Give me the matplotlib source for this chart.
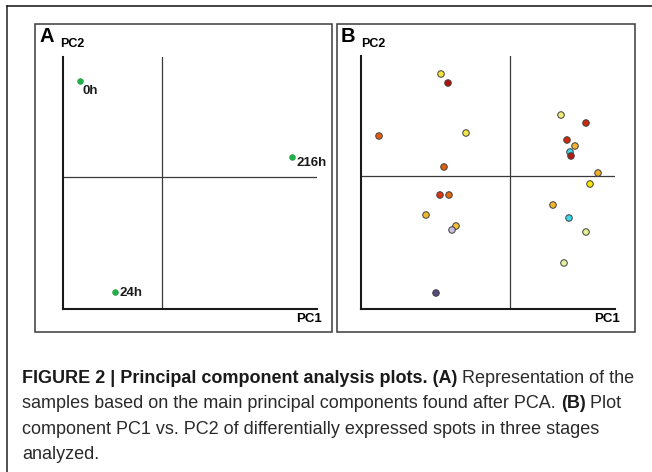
import numpy as np
import matplotlib
matplotlib.use("Agg")
import matplotlib.pyplot as plt
from matplotlib.patches import Rectangle
from matplotlib.lines import Line2D

W, H = 652, 472
plt.rcParams["font.family"] = ["Liberation Sans", "DejaVu Sans"]

# ---- panel A: samples (PC scores, arbitrary units) ----
samp_lab = ["0h", "216h", "24h"]
samp_pc1 = [-8.2, 13.0, -4.7]
samp_pc2 = [9.6, 2.0, -11.5]

# ---- panel B: differentially expressed spots ----
spot_pc1 = [-6.9, -6.2, -13.1, -4.4, -6.6, -7.0, -6.1, -8.4, -5.4, -5.8, -7.4,
            5.1, 7.6, 5.7, 6.5, 6.0, 6.1, 8.8, 8.0, 4.3, 5.9, 7.6, 5.4]
spot_pc2 = [10.2, 9.3, 4.0, 4.3, 0.9, -1.9, -1.9, -3.9, -5.0, -5.4, -11.7,
            6.1, 5.3, 3.6, 3.0, 2.4, 2.0, 0.3, -0.8, -2.9, -4.2, -5.6, -8.7]
spot_col = ["#f2e43c", "#b3120c", "#e0600e", "#f4e64a", "#e0620e", "#e03410",
            "#e0680e", "#f0b82a", "#f2c032", "#c9bcdc", "#5a4a7c",
            "#f0ea78", "#cc2c0a", "#d0280a", "#f0b434", "#3ad8ea", "#b81a12",
            "#f0b026", "#f8e600", "#f0b82a", "#3ad8ea", "#e2f08e", "#e2f0a0"]

fig = plt.figure(figsize=(W / 100, H / 100), dpi=100)


def fx(px):
    return px / W


def fy(py):
    return 1 - py / H


def box(x0, y0, x1, y1, **kw):
    fig.patches.append(Rectangle((fx(x0), fy(y1)), fx(x1) - fx(x0), fy(y0) - fy(y1),
                                 transform=fig.transFigure, fill=False, **kw))


def panel_axes(x0, x1, y0, y1, xlim, ylim):
    ax = fig.add_axes([fx(x0), fy(y1), fx(x1) - fx(x0), fy(y0) - fy(y1)])
    ax.set_xlim(*xlim); ax.set_ylim(*ylim)
    ax.set_xticks([]); ax.set_yticks([])
    ax.patch.set_alpha(0)
    for s in ["top", "right"]:
        ax.spines[s].set_visible(False)
    for s in ["left", "bottom"]:
        ax.spines[s].set_linewidth(1.5)
        ax.spines[s].set_color("#1a1a1a")
    ax.axvline(0, color="#3a3a3a", lw=0.9)
    ax.axhline(0, color="#3a3a3a", lw=0.9)
    return ax


# outer frame (left and top edges)
fig.add_artist(Line2D([fx(7), fx(7)], [fy(6), 0], transform=fig.transFigure, color="#222", lw=1.1))
fig.add_artist(Line2D([fx(7), 1], [fy(6), fy(6)], transform=fig.transFigure, color="#111", lw=1.1))

# panel frames
box(34.5, 23.5, 332, 332, edgecolor="#3a3a3a", lw=1.1)
box(337, 23.5, 634.5, 332, edgecolor="#3a3a3a", lw=1.1)

# ---- panel A ----
axA = panel_axes(63, 317, 57, 309, (-9.9, 15.5), (-13.2, 12.0))
axA.scatter(samp_pc1, samp_pc2, s=17, color="#1fb24a", edgecolors="#15902f",
            linewidths=0.4, zorder=3, clip_on=False)
lab_off = {"0h": (2, -7), "216h": (3.5, -4), "24h": (3, -1)}
for lab, x, y in zip(samp_lab, samp_pc1, samp_pc2):
    axA.annotate(lab, (x, y), xytext=lab_off[lab], textcoords="offset points",
                 fontsize=9.5, fontweight="bold", color="#1a1a1a",
                 va="center", ha="left", annotation_clip=False)

fig.text(fx(39), fy(36), "A", fontsize=14.5, fontweight="bold", va="center", ha="left")
fig.text(fx(60), fy(44), "PC2", fontsize=9, fontweight="bold", va="center", ha="left")
fig.text(fx(322), fy(318.5), "PC1", fontsize=9.5, fontweight="bold", va="center", ha="right")

# ---- panel B ----
axB = panel_axes(361, 615, 56, 309, (-14.9, 10.5), (-13.3, 12.0))
axB.scatter(spot_pc1, spot_pc2, s=22, c=spot_col, edgecolors="#3c3c3c",
            linewidths=0.7, zorder=3, clip_on=False)

fig.text(fx(341), fy(36), "B", fontsize=14.5, fontweight="bold", va="center", ha="left")
fig.text(fx(361), fy(44), "PC2", fontsize=9, fontweight="bold", va="center", ha="left")
fig.text(fx(620), fy(318.5), "PC1", fontsize=9.5, fontweight="bold", va="center", ha="right")

# ---- caption ----
cap_lines = [
    [("FIGURE 2 | Principal component analysis plots. (A)", "bold"),
     (" Representation of the", "normal")],
    [("samples based on the main principal components found after PCA. ", "normal"),
     ("(B)", "bold"), (" Plot", "normal")],
    [("component PC1 vs. PC2 of differentially expressed spots in three stages", "normal")],
    [("analyzed.", "normal")],
]
cap_y = [383, 408, 434, 459]
renderer = fig.canvas.get_renderer()
for parts, yy in zip(cap_lines, cap_y):
    x = fx(22)
    for txt, wt in parts:
        t = fig.text(x, fy(yy), txt, fontsize=13.0, fontweight=wt,
                     color="#1a1a1a" if wt == "bold" else "#2a2a2a",
                     va="baseline", ha="left")
        bb = t.get_window_extent(renderer)
        x += bb.width / W

fig.savefig("out.png", dpi=100)
